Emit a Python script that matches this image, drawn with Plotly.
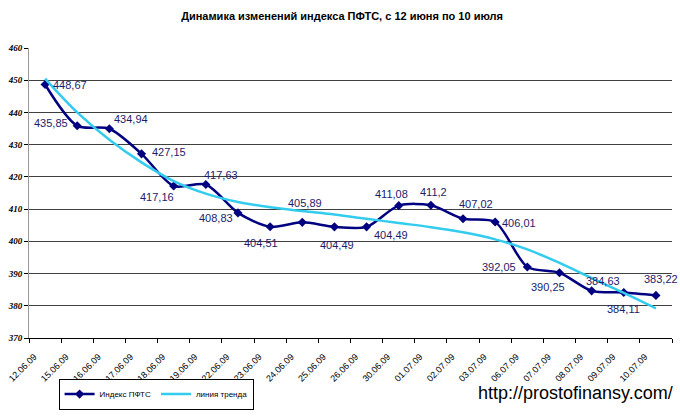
import plotly.graph_objects as go

dates = ["12.06.09", "15.06.09", "16.06.09", "17.06.09", "18.06.09", "19.06.09",
         "22.06.09", "23.06.09", "24.06.09", "25.06.09", "26.06.09", "30.06.09",
         "01.07.09", "02.07.09", "03.07.09", "06.07.09", "07.07.09", "08.07.09",
         "09.07.09", "10.07.09"]
index_pfts = [448.67, 435.85, 434.94, 427.15, 417.16, 417.63, 408.83, 404.51,
              405.89, 404.49, 404.49, 411.08, 411.2, 407.02, 406.01, 392.05,
              390.25, 384.63, 384.11, 383.22]
trend = [450.5, 440.0, 431.5, 424.5, 418.7, 414.8, 412.2, 410.6, 409.4, 408.3,
         407.0, 405.7, 404.4, 402.8, 400.6, 397.5, 393.3, 388.6, 384.0, 379.2]
y_ticks = [370, 380, 390, 400, 410, 420, 430, 440, 450, 460]

# label offsets in pixels (dx right, dy down) — style only
label_dx = [25, -26, 22, 27, -17, 15, -22, -9, 3, 3, 24, -7, 3, 13, 24, -28, -11, 11, 0, 5]
label_dy = [0, -3, -10, -2, 11, -10, 5, 16, -19, 18, 8, -12, -13, -15, 1, 0, 14, -10, 16, -16]

NAVY = "#000080"
CYAN = "#33CCEE"

fig = go.Figure()
fig.add_trace(go.Scatter(
    x=dates, y=index_pfts, name="Индекс ПФТС", mode="lines+markers",
    line=dict(color=NAVY, width=2.5, shape="spline", smoothing=0.8),
    marker=dict(symbol="diamond", size=7, color=NAVY),
))
fig.add_trace(go.Scatter(
    x=dates, y=trend, name="линия тренда", mode="lines",
    line=dict(color=CYAN, width=2.5, shape="spline", smoothing=1.0),
))

for d, v, dx, dy in zip(dates, index_pfts, label_dx, label_dy):
    fig.add_annotation(
        x=d, y=v, text=f"{v:g}".replace(".", ","), showarrow=False,
        xshift=dx, yshift=-dy,
        font=dict(family="Liberation Sans, Arial", size=11, color="#1b1b6b"),
    )

fig.add_annotation(
    xref="paper", yref="paper", x=1.005, y=-0.19, xanchor="right", yanchor="middle",
    text="http://prostofinansy.com/", showarrow=False,
    font=dict(family="Liberation Sans, Arial", size=18, color="#000000"),
)

fig.update_layout(
    width=680, height=416,
    margin=dict(l=29, r=8, t=48, b=78, autoexpand=False),
    paper_bgcolor="white", plot_bgcolor="white",
    title=dict(text="<b>Динамика изменений индекса ПФТС, с 12 июня по 10 июля</b>",
               x=0.503, xanchor="center", y=0.962, yanchor="middle",
               font=dict(family="Liberation Sans, Arial", size=11, color="#000000")),
    showlegend=True,
    legend=dict(orientation="h", x=0.046, y=-0.14, xanchor="left", yanchor="top",
                bordercolor="#000000", borderwidth=1, bgcolor="white",
                font=dict(family="Liberation Sans, Arial", size=8, color="#000000"),
                itemwidth=30, tracegroupgap=0),
    xaxis=dict(type="category", range=[-0.5, 19.5], tickangle=-45, automargin=False,
               ticks="outside", tickson="boundaries", ticklen=4, tickcolor="#000000",
               ticklabelshift=-11, ticklabelstandoff=9,
               showline=True, linecolor="#000000", linewidth=1, showgrid=False,
               tickfont=dict(family="Liberation Sans, Arial", size=9, color="#000000")),
    yaxis=dict(range=[370, 460], tickvals=y_ticks, ticks="outside", ticklen=4,
               automargin=False,
               tickcolor="#000000", showline=True, linecolor="#999999", linewidth=1,
               showgrid=True, gridcolor="#404040", gridwidth=1, zeroline=False,
               tickfont=dict(family="Liberation Serif, Times New Roman", size=9,
                             color="#000000", style="italic", weight="bold")),
)

fig.write_html("out.html", config={"displayModeBar": False},
               post_script="document.body.style.margin='0';")
